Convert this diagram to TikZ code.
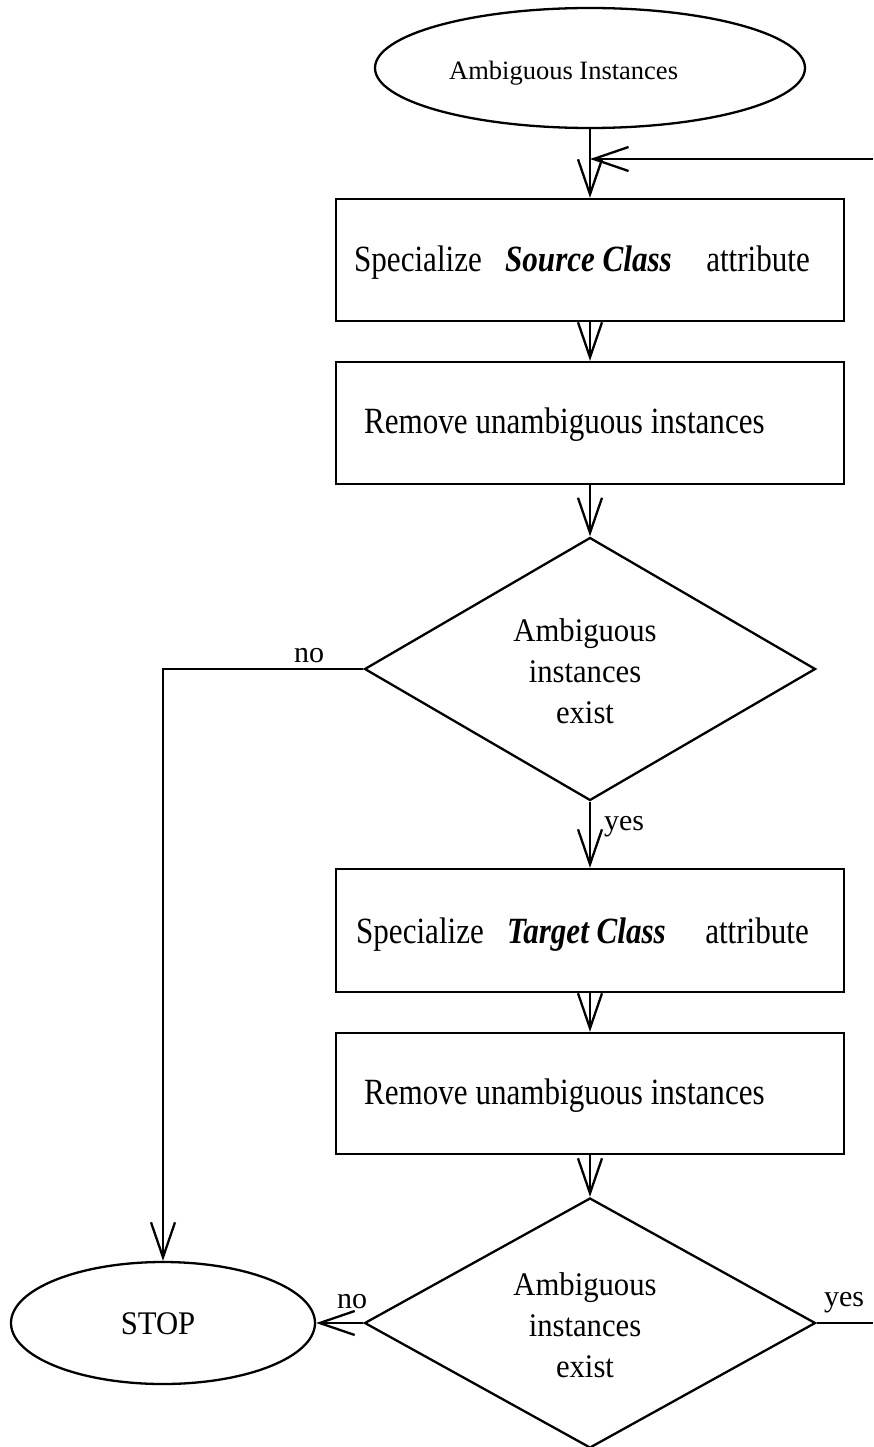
\documentclass[tikz,border=0pt]{standalone}
\usepackage{fontspec}
\setmainfont{Liberation Serif}
\newfontfamily\boxfont{Liberation Serif}[FakeStretch=0.84]
\newfontfamily\dfont{Liberation Serif}[FakeStretch=0.93]
\usetikzlibrary{shapes.geometric,arrows.meta}

\begin{document}
\begin{tikzpicture}[x=1pt,y=-1pt, line width=2.3pt,
  flow/.style={-{Straight Barb[length=35pt,width=24pt]}},
  stepbox/.style={draw, rectangle, minimum width=508pt, inner sep=0pt},
  terminal/.style={draw, ellipse, inner sep=0pt},
  decision/.style={draw, diamond, minimum width=451pt, inner sep=0pt},
  boxtext/.style={anchor=base west, inner sep=0pt, font=\boxfont\fontsize{37}{44}\selectfont},
  dtext/.style={align=center, inner sep=0pt, font=\dfont\fontsize{33}{41}\selectfont},
  tag/.style={anchor=base west, inner sep=0pt, font=\fontsize{30}{36}\selectfont}]

\useasboundingbox (0,0) rectangle (873,1447);

% start terminal
\node[terminal, minimum width=430pt, minimum height=120pt] (start) at (590,68) {};
\node[anchor=base west, inner sep=0pt, font=\fontsize{26.5}{30}\selectfont] (startlbl) at (448,80) {Ambiguous Instances};

% source-class steps
\node[stepbox, minimum height=122pt] (box1) at (590,260) {};
\node[boxtext] (b1a) at (353,272) {Specialize};
\node[boxtext, font=\boxfont\bfseries\itshape\fontsize{37}{44}\selectfont] (b1b) at (504,272) {Source Class};
\node[boxtext, anchor=base east] (b1c) at (811,272) {attribute};

\node[stepbox, minimum height=122pt] (box2) at (590,423) {};
\node[boxtext] (b2a) at (363,433) {Remove unambiguous instances};

% first decision
\node[decision, minimum height=263pt] (dec1) at (590,669) {};
\node[dtext] (d1t) at (585,671) {Ambiguous\\instances\\exist};

% target-class steps
\node[stepbox, minimum height=123pt] (box3) at (590,930.5) {};
\node[boxtext] (b3a) at (355,943) {Specialize};
\node[boxtext, font=\boxfont\bfseries\itshape\fontsize{37}{44}\selectfont] (b3b) at (506,943) {Target Class};
\node[boxtext, anchor=base east] (b3c) at (810,943) {attribute};

\node[stepbox, minimum height=121pt] (box4) at (590,1093.5) {};
\node[boxtext] (b4a) at (363,1104) {Remove unambiguous instances};

% second decision
\node[decision, minimum height=250pt] (dec2) at (590,1323) {};
\node[dtext] (d2t) at (585,1325) {Ambiguous\\instances\\exist};

% stop terminal
\node[terminal, minimum width=304pt, minimum height=122pt] (stop) at (163,1323) {};
\node[anchor=base, inner sep=0pt, font=\dfont\fontsize{33}{40}\selectfont] (stoplbl) at (158,1334) {STOP};

% connectors
\coordinate (loopin) at (873,159);
\coordinate (loopout) at (873,1323);
\draw[flow] (start.south) -- (box1.north);
\draw[flow] (loopin) -- (loopin -| start.south);
\draw[flow] (box1.south) -- (box2.north);
\draw[flow] (box2.south) -- (dec1.north);
\draw[flow] (dec1.west) -| (stop.north);
\node[tag] (no1) at (293,662) {no};
\draw[flow] (dec1.south) -- (box3.north);
\node[tag] (yes1) at (603,830) {yes};
\draw[flow] (box3.south) -- (box4.north);
\draw[flow] (box4.south) -- (dec2.north);
\draw[flow] (dec2.west) -- (stop.east);
\node[tag] (no2) at (336,1308) {no};
\draw (dec2.east) -- (loopout);
\node[tag] (yes2) at (823,1306) {yes};
\end{tikzpicture}
\end{document}
